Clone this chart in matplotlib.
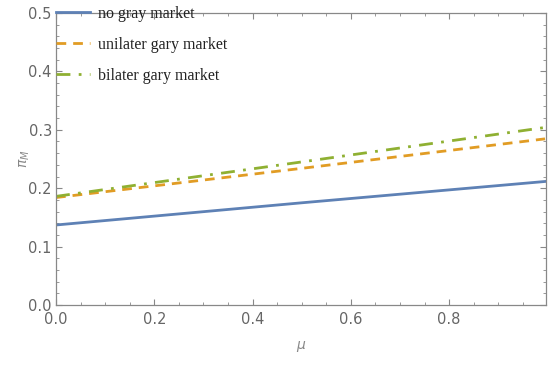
import matplotlib
matplotlib.use("Agg")
import matplotlib.pyplot as plt
from matplotlib.ticker import MultipleLocator

mu = [0.0, 0.5, 0.995]
no_gray = [0.137, 0.175, 0.2115]
unilateral = [0.184, 0.234, 0.2845]
bilateral = [0.186, 0.245, 0.304]
labels = ["no gray market", "unilater gary market", "bilater gary market"]

fig = plt.figure(figsize=(5.56, 3.65), dpi=100)
ax = fig.add_axes([56 / 556, 60 / 365, (546 - 56) / 556, (305 - 13) / 365])

ax.plot(mu, no_gray, color="#5e81b5", lw=2.0, label=labels[0])
ax.plot(mu, unilateral, color="#e19c24", lw=2.0, ls=(0, (3.5, 2.5)), label=labels[1])
ax.plot(mu, bilateral, color="#8fb032", lw=2.0, ls=(0, (5, 3, 1, 3)), label=labels[2])

ax.set_xlim(0, 0.997)
ax.set_ylim(0, 0.5)
ax.xaxis.set_minor_locator(MultipleLocator(0.05))
ax.yaxis.set_minor_locator(MultipleLocator(0.02))
ax.set_xticks([0.0, 0.2, 0.4, 0.6, 0.8])
ax.set_xticklabels(["0.0", "0.2", "0.4", "0.6", "0.8"])
ax.set_yticks([0.0, 0.1, 0.2, 0.3, 0.4, 0.5])
ax.set_yticklabels(["0.0", "0.1", "0.2", "0.3", "0.4", "0.5"])

gray = "#888888"
for s in ax.spines.values():
    s.set_color(gray)
    s.set_linewidth(0.9)
ax.tick_params(which="both", direction="in", color=gray, labelcolor="#666666",
               labelsize=10.5, top=True, right=True)
ax.tick_params(which="major", length=4)
ax.tick_params(which="minor", length=2.5)
ax.tick_params(axis="x", which="both", pad=5)
ax.tick_params(axis="y", pad=3)

ax.set_xlabel(r"$\mu$", color=gray, fontsize=10, labelpad=9)
ax.set_ylabel(r"$\pi_M$", color=gray, fontsize=10, labelpad=-3)

leg = ax.legend(loc="upper left", bbox_to_anchor=(0.0, 1.024), frameon=False,
                prop={"family": "Liberation Serif", "size": 11.5},
                handlelength=2.1, handletextpad=0.55, labelspacing=0.93,
                borderaxespad=0, borderpad=0)
for t in leg.get_texts():
    t.set_color("#222222")

fig.savefig("out.png", dpi=100)
